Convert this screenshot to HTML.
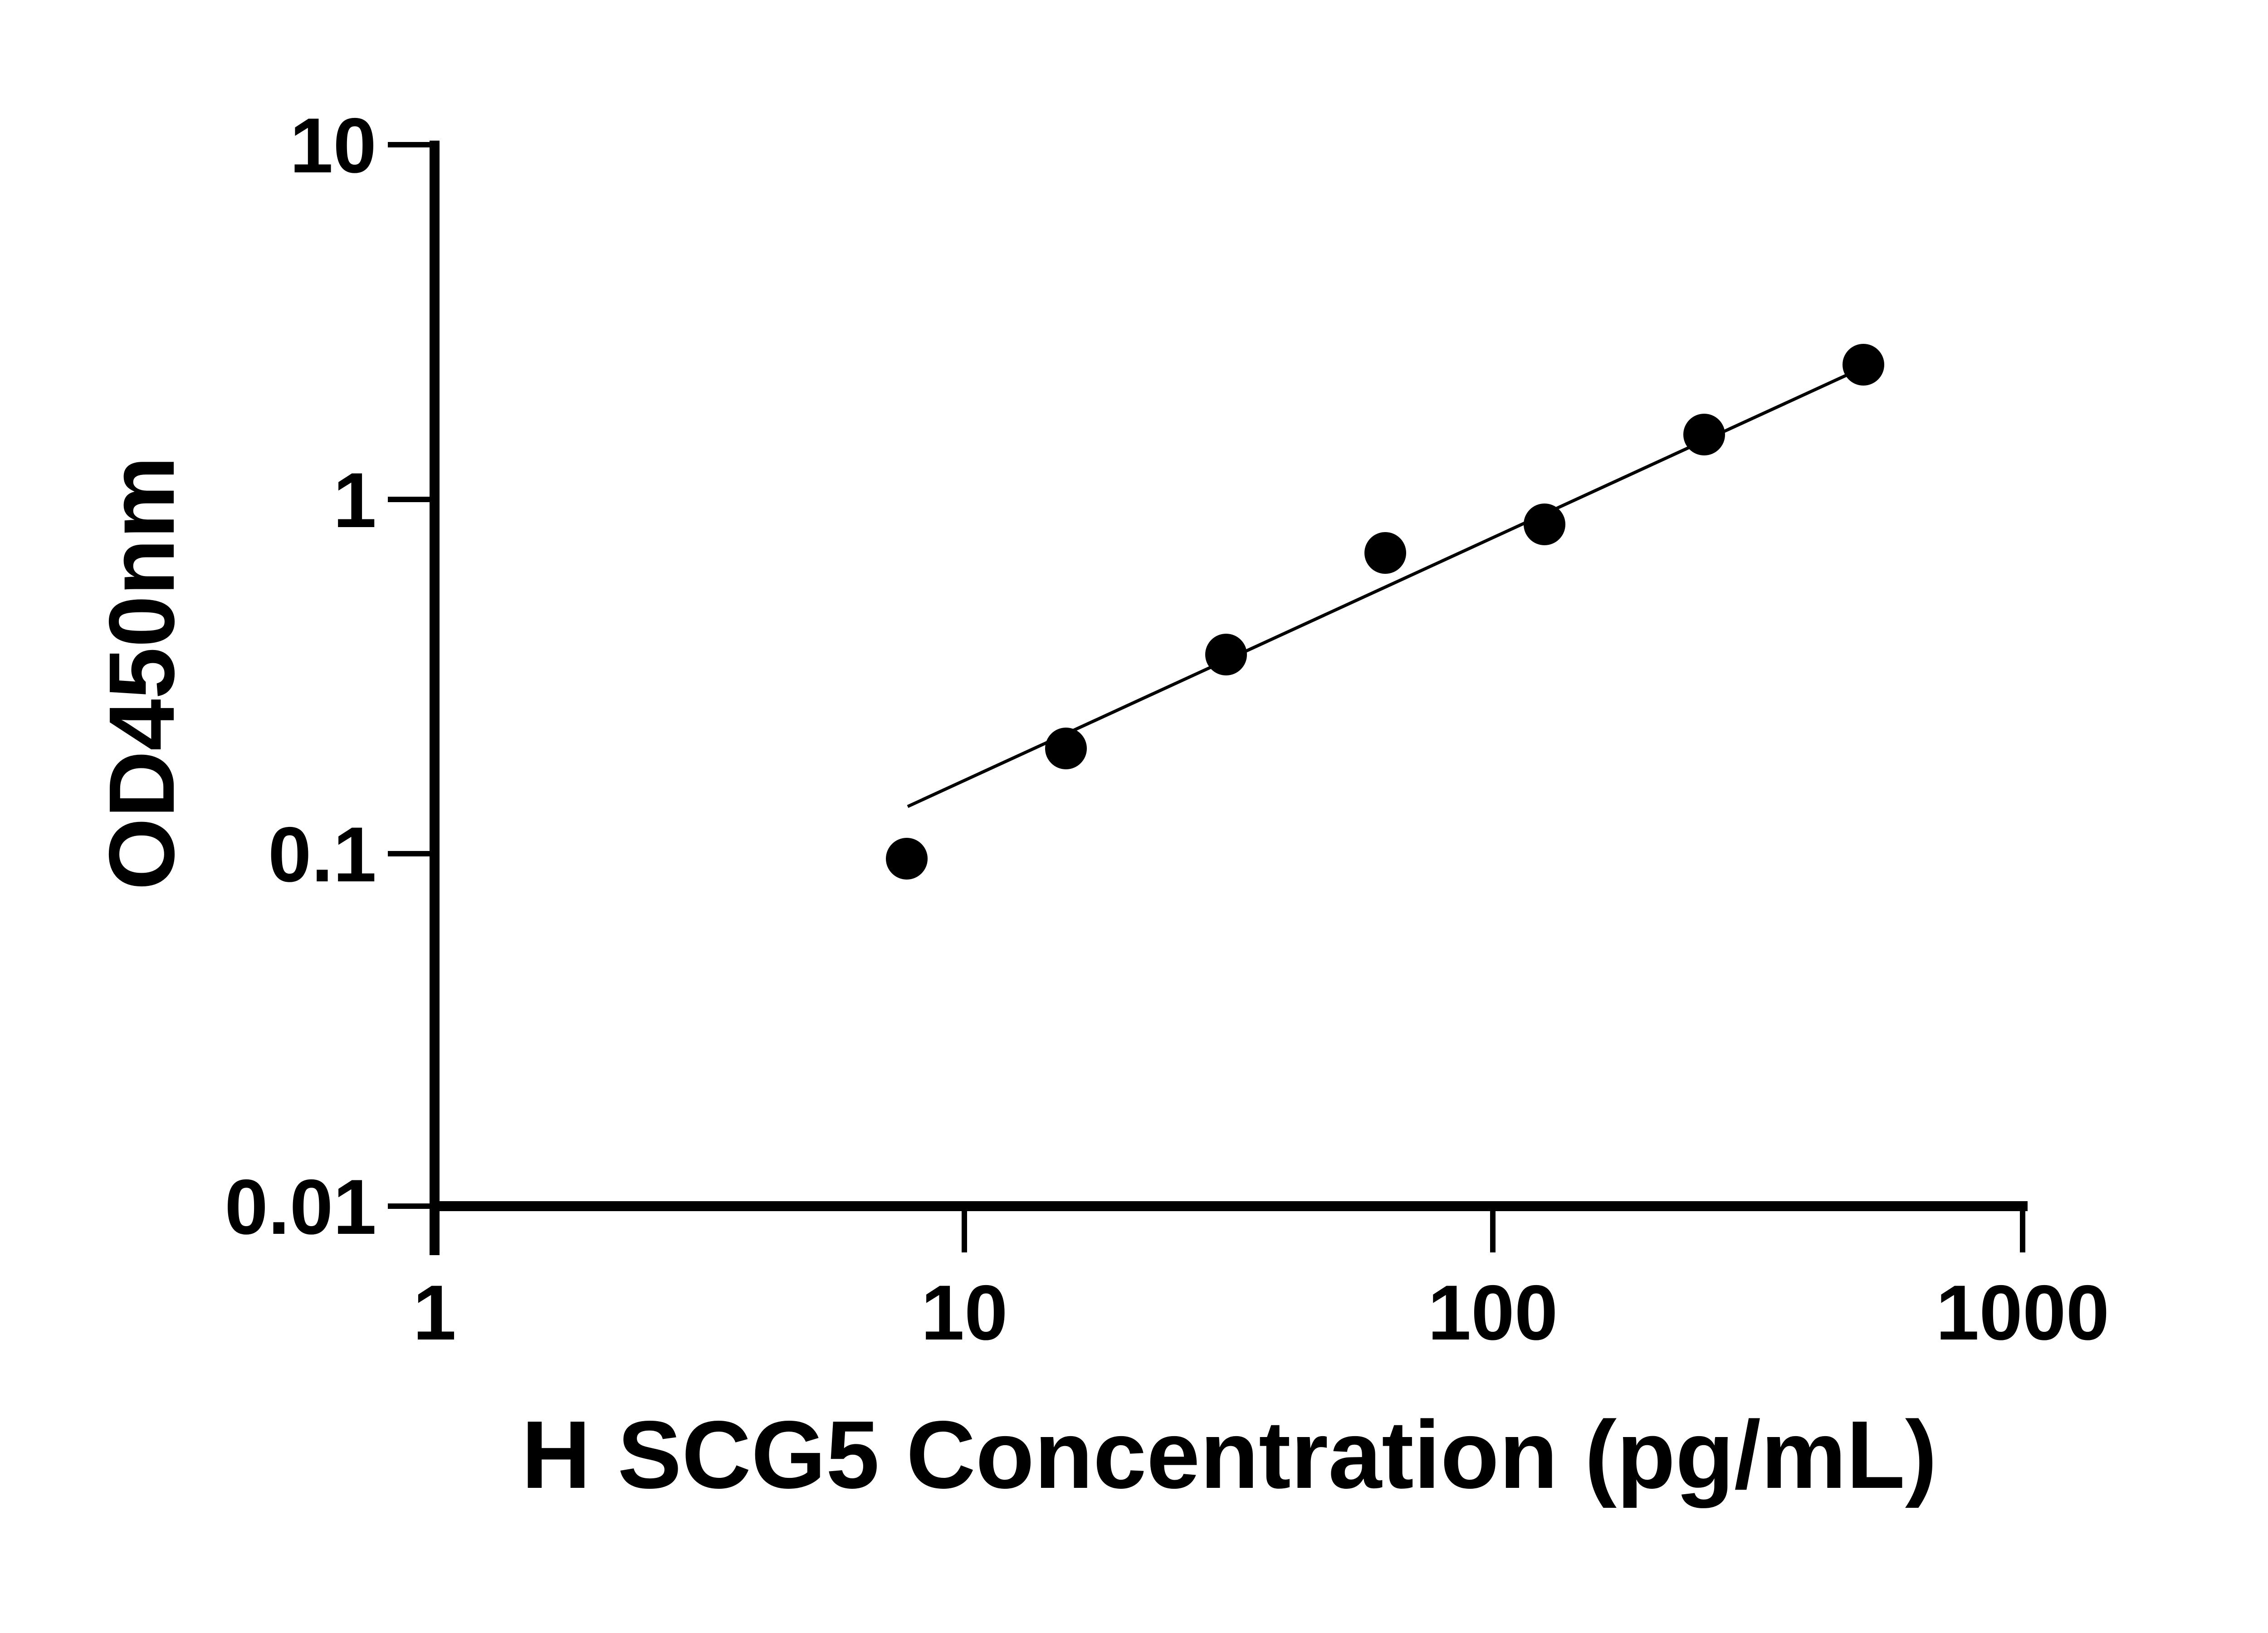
<!DOCTYPE html>
<html><head><meta charset="utf-8"><style>html,body{margin:0;padding:0;background:#fff;}svg{display:block}</style></head>
<body>
<svg width="5136" height="3600" viewBox="0 0 5136 3600" xmlns="http://www.w3.org/2000/svg">
<rect width="5136" height="3600" fill="#fff"/>
<g stroke="#000" fill="none">
<line x1="958" y1="310" x2="958" y2="2767" stroke-width="22"/>
<line x1="947" y1="2659" x2="4470" y2="2659" stroke-width="22"/>
<g stroke-width="12">
<line x1="855" y1="319" x2="958" y2="319"/>
<line x1="855" y1="1101" x2="958" y2="1101"/>
<line x1="855" y1="1882" x2="958" y2="1882"/>
<line x1="855" y1="2659" x2="958" y2="2659"/>
<line x1="2126" y1="2659" x2="2126" y2="2761"/>
<line x1="3291" y1="2659" x2="3291" y2="2761"/>
<line x1="4459" y1="2659" x2="4459" y2="2761"/>
</g>
<line x1="2001" y1="1778" x2="4108" y2="810" stroke-width="7"/>
</g>
<g fill="#000">
<circle cx="1999" cy="1893" r="46"/>
<circle cx="2350" cy="1650" r="46"/>
<circle cx="2703" cy="1443" r="46"/>
<circle cx="3054" cy="1219" r="46"/>
<circle cx="3405" cy="1156" r="46"/>
<circle cx="3757" cy="958" r="46"/>
<circle cx="4108" cy="804" r="46"/>
</g>
<g font-family="Liberation Sans, sans-serif" font-weight="bold" font-size="172" fill="#000">
<text x="830" y="380" text-anchor="end">10</text>
<text x="830" y="1162" text-anchor="end">1</text>
<text x="830" y="1943" text-anchor="end">0.1</text>
<text x="830" y="2720" text-anchor="end">0.01</text>
<text x="958" y="2953" text-anchor="middle">1</text>
<text x="2126" y="2953" text-anchor="middle">10</text>
<text x="3291" y="2953" text-anchor="middle">100</text>
<text x="4459" y="2953" text-anchor="middle">1000</text>
</g>
<text x="2710" y="3280" text-anchor="middle" font-family="Liberation Sans, sans-serif" font-weight="bold" font-size="212">H SCG5 Concentration (pg/mL)</text>
<text transform="translate(383,1484) rotate(-90)" text-anchor="middle" font-family="Liberation Sans, sans-serif" font-weight="bold" font-size="205">OD450nm</text>
</svg>
</body></html>
